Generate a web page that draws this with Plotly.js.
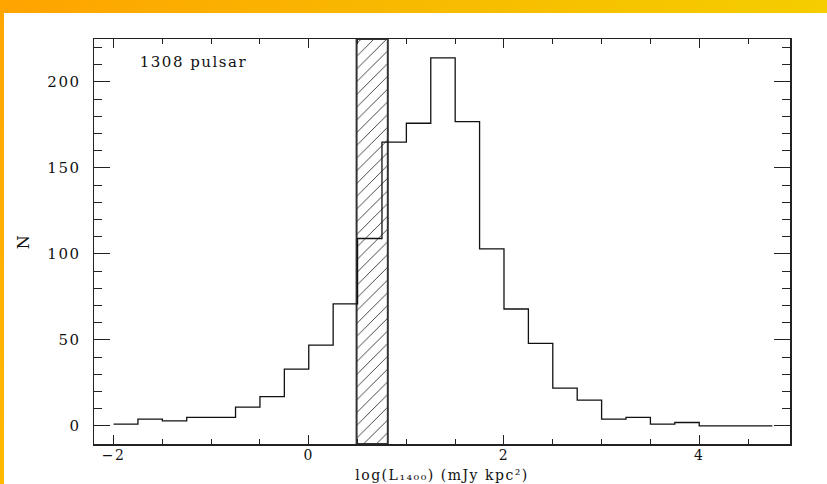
<!DOCTYPE html>
<html><head><meta charset="utf-8">
<script src="https://cdn.plot.ly/plotly-3.0.1.min.js"></script>
<style>
html,body{margin:0;padding:0;width:827px;height:484px;overflow:hidden;background:#fff;}
#bgtop{position:absolute;left:0;top:0;width:827px;height:13px;background:linear-gradient(to right,#ffa300,#f8ba00 50%,#f5cd00);}
#bgleft{position:absolute;left:0;top:0;width:4px;height:484px;background:linear-gradient(to bottom,#ffa500,#ffb900);}
#chart{position:absolute;left:0;top:0;width:827px;height:484px;}
#chart text{letter-spacing:1.5px;}
</style></head>
<body><div id="bgtop"></div><div id="bgleft"></div><div id="chart"></div>
<script>
// histogram bin left edges (last value = right edge of final bin)
const binEdges = [-2.0, -1.75, -1.5, -1.25, -1.0, -0.75, -0.5, -0.25, 0.0, 0.25, 0.5, 0.75,
  1.0, 1.25, 1.5, 1.75, 2.0, 2.25, 2.5, 2.75, 3.0, 3.25, 3.5, 3.75, 4.0, 4.25, 4.5, 4.75];
// pulsar counts per bin
const counts = [1, 4, 3, 5, 5, 11, 17, 33, 47, 71, 109, 165, 176, 214, 177, 103, 68, 48, 22, 15, 4, 5, 1, 2, 0, 0, 0];
// hatched band (x extent)
const bandRange = [0.49, 0.81];
const xRange = [-2.2, 4.93];
const yRange = [-10.5, 225];
const label = '1308 pulsar';
const xTitle = 'log(L\u2081\u2084\u2080\u2080) (mJy kpc\u00b2)';
const yTitle = 'N';

const FONT = 'DejaVu Serif';
const stepY = counts.concat([counts[counts.length - 1]]);

const band = {
  type: 'bar',
  x: [(bandRange[0] + bandRange[1]) / 2],
  width: [bandRange[1] - bandRange[0]],
  base: [yRange[0]],
  y: [yRange[1] - yRange[0]],
  marker: {
    color: 'white',
    line: {color: '#333', width: 2},
    pattern: {shape: '/', fgcolor: '#333', bgcolor: 'white', size: 9, solidity: 0.1, fgopacity: 1}
  },
  hoverinfo: 'skip',
  showlegend: false
};

const hist = {
  type: 'scatter',
  mode: 'lines',
  x: binEdges,
  y: stepY,
  line: {shape: 'hv', color: '#111', width: 1.3},
  showlegend: false
};

const axisCommon = {
  showline: true, linecolor: '#222', linewidth: 1.5, mirror: 'ticks',
  ticks: 'inside', tickcolor: '#222', tickwidth: 1,
  showgrid: false, zeroline: false,
  tickfont: {family: FONT, size: 15, color: '#111'}
};

const layout = {
  width: 827, height: 484,
  margin: {l: 94, r: 37, t: 39, b: 40},
  paper_bgcolor: 'rgba(0,0,0,0)',
  plot_bgcolor: 'white',
  showlegend: false,
  bargap: 0,
  xaxis: Object.assign({}, axisCommon, {
    range: xRange, tick0: 0, dtick: 2, ticklen: 9,
    ticklabelstandoff: -2,
    tickfont: {family: FONT, size: 14, color: '#111'},
    minor: {dtick: 0.5, tick0: 0, ticks: 'inside', ticklen: 5, tickcolor: '#222', showgrid: false}
  }),
  yaxis: Object.assign({}, axisCommon, {
    range: yRange, tick0: 0, dtick: 50, ticklen: 16,
    ticklabelstandoff: 9,
    minor: {dtick: 10, tick0: 0, ticks: 'inside', ticklen: 8, tickcolor: '#222', showgrid: false},
    title: {text: yTitle, font: {family: FONT, size: 16, color: '#111'}, standoff: 18}
  }),
  annotations: [{
    text: label, xref: 'paper', yref: 'paper', x: 0.075, y: 0.944,
    xanchor: 'left', yanchor: 'middle', showarrow: false,
    font: {family: FONT, size: 15, color: '#111'}
  }, {
    text: xTitle, xref: 'paper', yref: 'paper', x: 0.5, y: -0.0985,
    xanchor: 'center', yanchor: 'bottom', showarrow: false, borderpad: 0,
    font: {family: FONT, size: 14, color: '#111'}
  }]
};

Plotly.newPlot('chart', [band, hist], layout, {displayModeBar: false, staticPlot: true});
</script>
</body></html>
